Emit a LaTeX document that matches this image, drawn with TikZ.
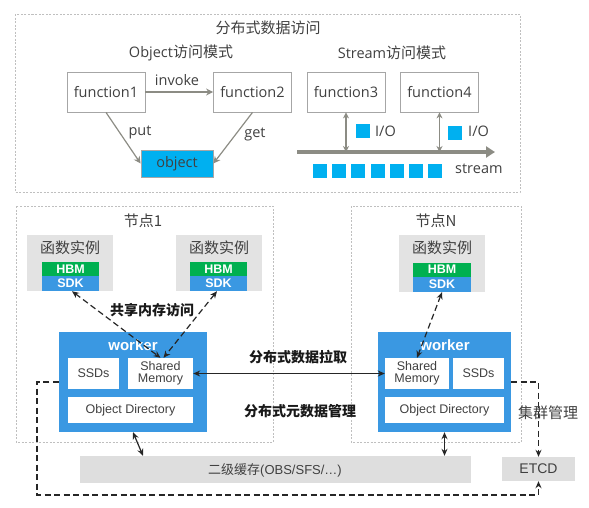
\documentclass[tikz,border=0pt]{standalone}
\usepackage{fontspec}
\setmainfont{Open Sans}
\newfontfamily\cjk{Noto Sans CJK SC}
\newfontfamily\arial{Liberation Sans}
\usetikzlibrary{arrows.meta,calc}
\definecolor{txt}{HTML}{404040}
\definecolor{bord}{HTML}{A6A6A6}
\definecolor{dashg}{HTML}{BFBFBF}
\definecolor{arrg}{HTML}{8C8C84}
\definecolor{cyanobj}{HTML}{00B0F0}
\definecolor{wblue}{HTML}{3A98E2}
\definecolor{hbmg}{HTML}{00B050}
\definecolor{instg}{HTML}{E3E3E3}
\definecolor{cacheg}{HTML}{DEDEDE}
\tikzset{
  lat/.style={font=\fontsize{14.5}{16}\selectfont, text=txt, inner sep=0},
  cn/.style={font=\cjk\fontsize{15}{17}\selectfont, text=txt, inner sep=0},
  cnb/.style={font=\cjk\bfseries\fontsize{14}{16}\selectfont, text=black!90, inner sep=0},
  fbox/.style={draw=bord, line width=0.8pt, fill=white, minimum width=78, minimum height=40, inner sep=0, font=\fontsize{14.5}{16}\selectfont, text=txt},
  dashbox/.style={draw=dashg, line width=0.7pt, dash pattern=on 2pt off 1.5pt},
  garrow/.style={draw=arrg, line width=1.2pt, -{Stealth[length=7pt,width=7pt]}},
  gdarrow/.style={draw=arrg, line width=1.2pt, {Stealth[length=6pt,width=6pt]}-{Stealth[length=6pt,width=6pt]}},
  sq/.style={fill=cyanobj, draw=none, minimum width=14, minimum height=14, inner sep=0},
  inst/.style={fill=instg, draw=none, minimum width=86, minimum height=56, inner sep=0},
  hbm/.style={fill=hbmg, draw=none, minimum width=57, minimum height=14, inner sep=0, text=white, font=\arial\bfseries\fontsize{12.5}{13}\selectfont},
  sdk/.style={fill=wblue, draw=none, minimum width=57, minimum height=15, inner sep=0, text=white, font=\arial\bfseries\fontsize{12.5}{13}\selectfont},
  worker/.style={fill=wblue, draw=none, inner sep=0},
  wtitle/.style={text=white, font=\arial\bfseries\fontsize{15}{16}\selectfont, inner sep=0},
  wbox/.style={fill=white, draw=none, inner sep=0, text=txt, font=\arial\fontsize{12.5}{14}\selectfont, align=center},
  darr/.style={draw=black!85, line width=1.2pt, dash pattern=on 6pt off 3.5pt, {Stealth[length=7pt,width=6pt]}-{Stealth[length=7pt,width=6pt]}},
  sarr/.style={draw=black!85, line width=1.2pt, {Stealth[length=7pt,width=6pt]}-{Stealth[length=7pt,width=6pt]}},
  clus/.style={draw=black!85, line width=1.2pt, dash pattern=on 6pt off 3.5pt},
}
\begin{document}
\begin{tikzpicture}[x=1pt,y=-1pt]
\useasboundingbox (0,0) rectangle (589,507);
% ---------- top section ----------
\draw[dashbox] (15,14) rectangle (520,192);
\node[cn] (ttl) at (268,28) {分布式数据访问};
\node[lat] (om) at (181,53) {Object{\cjk\fontsize{15}{17}\selectfont 访问模式}};
\node[lat] (sm) at (392,53) {Stream{\cjk\fontsize{15}{17}\selectfont 访问模式}};
\node[fbox] (f1) at (106,92) {function1};
\node[fbox] (f2) at (252.5,92) {function2};
\node[fbox, fill=cyanobj, draw=bord, minimum width=72, minimum height=27] (obj) at (177,163.5) {object};
\draw[garrow] (f1.east) -- (f2.west);
\node[lat] (inv) at (177,80) {invoke};
\draw[garrow] (f1.south) -- (obj.west);
\node[lat] (put) at (140,132) {put};
\draw[garrow] (f2.south) -- (obj.east);
\node[lat] (get) at (255,134) {get};
\node[fbox] (f3) at (346,92) {function3};
\node[fbox] (f4) at (439.5,92) {function4};
\coordinate (s0) at (297,152);
\coordinate (s1) at (495,152);
\draw[draw=arrg, line width=4pt, -{Triangle[length=9pt,width=11pt]}] (s0) -- (s1);
\draw[gdarrow] (f3.south) -- (f3.south |- s0);
\draw[gdarrow] (f4.south) -- (f4.south |- s0);
\node[sq] (io1) at (363,131) {};
\node[lat, anchor=west] (io1t) at (375,131) {I/O};
\node[sq] (io2) at (455,133) {};
\node[lat, anchor=west] (io2t) at (468,131) {I/O};
\foreach \i in {0,...,6} {
  \node[sq] (st\i) at ({320+19.2*\i},170.5) {};
}
\node[lat, anchor=west] (stt) at (455,169) {stream};
% ---------- node 1 ----------
\draw[dashbox] (16,206) rectangle (273,442);
\node[cn] (n1) at (143,221) {节点1};
\node[inst] (fiL) at (70,263) {};
\node[cn] at (70,248) {函数实例};
\node[hbm] (hbmL) at (70.5,269) {HBM};
\node[sdk] (sdkL) at (70.5,283.5) {SDK};
\node[inst] (fiR) at (219,263) {};
\node[cn] at (219,248) {函数实例};
\node[hbm] (hbmR) at (218.5,269) {HBM};
\node[sdk] (sdkR) at (218.5,283.5) {SDK};
\node[worker, minimum width=148, minimum height=100] (w1) at (133,382) {};
\node[wtitle] at (133,345) {worker};
\node[wbox, minimum width=51, minimum height=31] (ssd1) at (93.5,373.5) {SSDs};
\node[wbox, minimum width=65, minimum height=31] (sm1) at (160.5,373.5) {Shared\\[-2pt]Memory};
\node[wbox, minimum width=125, minimum height=26] (od1) at (130.5,410) {Object Directory};
\draw[darr] ($(fiL.south)+(2,0)$) -- (sm1.north);
\draw[darr] ($(fiR.south)+(-2,0)$) -- ($(sm1.north)+(3,0)$);
\node[cnb] (shm) at (152,310) {共享内存访问};
% ---------- node N ----------
\draw[dashbox] (351,206) rectangle (521,442);
\node[cn] (nN) at (436,221) {节点N};
\node[inst, minimum height=57] (fiN) at (442,263.5) {};
\node[cn] at (442,248) {函数实例};
\node[hbm, minimum width=58] (hbmN) at (442,269.5) {HBM};
\node[sdk, minimum width=58] (sdkN) at (442,284.5) {SDK};
\node[worker, minimum width=133, minimum height=100] (wN) at (444.5,382) {};
\node[wtitle] at (445,345) {worker};
\node[wbox, minimum width=64, minimum height=31] (smN) at (417,373.5) {Shared\\[-2pt]Memory};
\node[wbox, minimum width=51, minimum height=31] (ssdN) at (478.5,373.5) {SSDs};
\node[wbox, minimum width=119, minimum height=26] (odN) at (444.5,410) {Object Directory};
\draw[darr] (fiN.south) -- (smN.north);
% ---------- between ----------
\draw[sarr] (sm1.east) -- (smN.west);
\node[cnb] (pull) at (298,357) {分布式数据拉取};
\node[cnb] (meta) at (300,411) {分布式元数据管理};
% ---------- bottom ----------
\node[fill=cacheg, draw=none, minimum width=391, minimum height=27, inner sep=0] (cache) at (275.5,469.5) {};
\node[text=txt, font=\arial\fontsize{13}{15}\selectfont, inner sep=0] at (275,470) {{\cjk 二级缓存}(OBS/SFS/…)};
\node[fill=cacheg, draw=none, minimum width=73, minimum height=24, inner sep=0, text=txt, font=\arial\fontsize{14}{15}\selectfont] (etcd) at (538.5,469) {ETCD};
\draw[sarr] (w1.south) -- ($(cache.north)+(-132.5,0)$);
\draw[sarr] (wN.south) -- (wN.south |- cache.north);
\draw[clus, -{Stealth[length=7pt,width=6pt]}] (wN.east) -| (etcd.north);
\coordinate (cl1) at (37,382);
\coordinate (cl2) at (37,495);
\draw[clus, -{Stealth[length=7pt,width=6pt]}] (w1.west) -- (cl1) -- (cl2) -| (etcd.south);
\node[cn] (clm) at (548,413) {集群管理};
\end{tikzpicture}
\end{document}
